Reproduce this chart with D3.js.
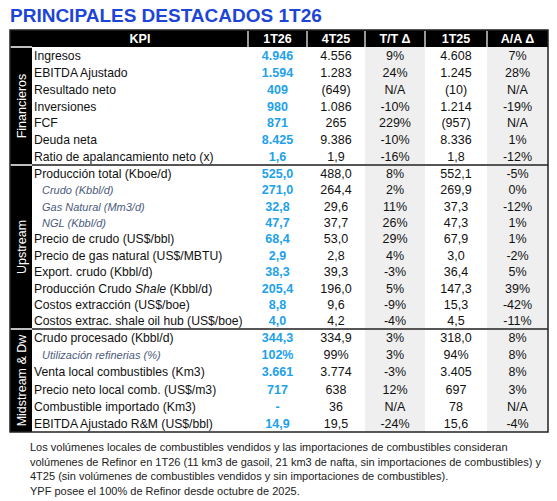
<!DOCTYPE html>
<html><head><meta charset="utf-8">
<script src="https://cdn.jsdelivr.net/npm/d3@7"></script>
<style>body{margin:0;background:#fff}svg{font-family:"Liberation Sans",Arial,sans-serif}</style>
</head><body><div id="canvas"></div>
<script>
// DATA
const title = "PRINCIPALES DESTACADOS 1T26";
const headers = ["KPI", "1T26", "4T25", "T/T Δ", "1T25", "A/A Δ"];
const sections = ["Financieros", "Upstream", "Midstream & Dw"];
const kpis = [
  ["Ingresos", "EBITDA Ajustado", "Resultado neto", "Inversiones", "FCF", "Deuda neta", "Ratio de apalancamiento neto (x)"],
  ["Producción total (Kboe/d)", "Crudo (Kbbl/d)", "Gas Natural (Mm3/d)", "NGL (Kbbl/d)", "Precio de crudo (US$/bbl)",
   "Precio de gas natural (US$/MBTU)", "Export. crudo (Kbbl/d)", "Producción Crudo |Shale| (Kbbl/d)",
   "Costos extracción (US$/boe)", "Costos extrac. shale oil hub (US$/boe)"],
  ["Crudo procesado (Kbbl/d)", "Utilización refinerias (%)", "Venta local combustibles (Km3)",
   "Precio neto local comb. (US$/m3)", "Combustible importado (Km3)", "EBITDA Ajustado R&M (US$/bbl)"]
];
const subRows = ["Crudo (Kbbl/d)", "Gas Natural (Mm3/d)", "NGL (Kbbl/d)", "Utilización refinerias (%)"];
const v1T26 = [["4.946","1.594","409","980","871","8.425","1,6"],
  ["525,0","271,0","32,8","47,7","68,4","2,9","38,3","205,4","8,8","4,0"],
  ["344,3","102%","3.661","717","-","14,9"]];
const v4T25 = [["4.556","1.283","(649)","1.086","265","9.386","1,9"],
  ["488,0","264,4","29,6","37,7","53,0","2,8","39,3","196,0","9,6","4,2"],
  ["334,9","99%","3.774","638","36","19,5"]];
const vTT = [["9%","24%","N/A","-10%","229%","-10%","-16%"],
  ["8%","2%","11%","26%","29%","4%","-3%","5%","-9%","-4%"],
  ["3%","3%","-3%","12%","N/A","-24%"]];
const v1T25 = [["4.608","1.245","(10)","1.214","(957)","8.336","1,8"],
  ["552,1","269,9","37,3","47,3","67,9","3,0","36,4","147,3","15,3","4,5"],
  ["318,0","94%","3.405","697","78","15,6"]];
const vAA = [["7%","28%","N/A","-19%","N/A","1%","-12%"],
  ["-5%","0%","-12%","1%","1%","-2%","5%","39%","-42%","-11%"],
  ["8%","8%","8%","3%","N/A","-4%"]];
const footnote = [
  "Los volúmenes locales de combustibles vendidos y las importaciones de combustibles consideran",
  "volúmenes de Refinor en 1T26 (11 km3 de gasoil, 21 km3 de nafta, sin importaciones de combustibles) y",
  "4T25 (sin volúmenes de combustibles vendidos y sin importaciones de combustibles).",
  "YPF posee el 100% de Refinor desde octubre de 2025."
];

// DIMENSIONS
const width = 557, height = 501;
const colEdges = [32, 248, 307, 365, 425, 487, 548];
const left = 10, right = 548;
const headerTop = 30, headerBottom = 47;
const sectionBounds = [[47, 165], [165, 329], [329, 432]];
const blue = "#1da1ea";

const svg = d3.select("#canvas").append("svg").attr("width", width).attr("height", height);

svg.append("text").attr("x", 10).attr("y", 22).attr("fill", "#1d45d6")
  .attr("font-size", 19).attr("font-weight", "bold").text(title);

const xCol = d3.scaleOrdinal().domain(headers).range(colEdges.slice(0, 6));
const wCol = h => colEdges[headers.indexOf(h) + 1] - xCol(h);

// gray delta columns
sectionBounds.forEach(([t, b]) => {
  ["T/T Δ", "A/A Δ"].forEach(h => svg.append("rect").attr("x", xCol(h)).attr("y", t)
    .attr("width", wCol(h)).attr("height", b - t).attr("fill", "#efefef"));
});

// header
svg.append("rect").attr("x", left).attr("y", headerTop).attr("width", right - left)
  .attr("height", headerBottom - headerTop).attr("fill", "#000");
headers.forEach((h, i) => {
  if (i > 0) svg.append("line").attr("x1", xCol(h)).attr("x2", xCol(h))
    .attr("y1", headerTop + 1).attr("y2", headerBottom).attr("stroke", "#fff").attr("stroke-width", 1.2);
  svg.append("text").attr("x", xCol(h) + wCol(h) / 2).attr("y", headerBottom - 4)
    .attr("text-anchor", "middle").attr("fill", "#fff").attr("font-weight", "bold")
    .attr("font-size", 12.5).text(h);
});

const valueSets = [v1T26, v4T25, vTT, v1T25, vAA];

sections.forEach((s, si) => {
  const [t, b] = sectionBounds[si];
  const y = d3.scaleBand().domain(d3.range(kpis[si].length)).range([t, b]);
  // section label bar
  svg.append("rect").attr("x", left).attr("y", t).attr("width", colEdges[0] - left)
    .attr("height", b - t).attr("fill", "#000");
  svg.append("line").attr("x1", left).attr("x2", colEdges[0]).attr("y1", t).attr("y2", t)
    .attr("stroke", "#fff").attr("stroke-width", 1.5);
  svg.append("text").attr("transform", `translate(${left + 15.5},${(t + b) / 2}) rotate(-90)`)
    .attr("text-anchor", "middle").attr("fill", "#fff").attr("font-size", 12.5).text(s);

  kpis[si].forEach((k, ri) => {
    const ty = y(ri) + y.bandwidth() / 2 + 4.5;
    const sub = subRows.includes(k);
    const txt = svg.append("text").attr("x", colEdges[0] + (sub ? 10 : 2)).attr("y", ty)
      .attr("font-size", sub ? 11 : 12.2).attr("fill", sub ? "#4b5b7c" : "#111")
      .attr("font-style", sub ? "italic" : null);
    k.split("|").forEach((part, pi) => txt.append("tspan")
      .attr("font-style", pi === 1 ? "italic" : null).text(part));
    valueSets.forEach((vals, ci) => {
      const h = headers[ci + 1];
      svg.append("text").attr("x", xCol(h) + wCol(h) / 2).attr("y", ty)
        .attr("text-anchor", "middle").attr("font-size", 12.5)
        .attr("fill", ci === 0 ? blue : "#111").attr("font-weight", ci === 0 ? "bold" : null)
        .text(vals[si][ri]);
    });
  });
  // section separator
  if (si > 0) svg.append("line").attr("x1", colEdges[0]).attr("x2", right).attr("y1", t).attr("y2", t)
    .attr("stroke", "#555").attr("stroke-width", 2);
});

// outer border
svg.append("rect").attr("x", left).attr("y", headerTop).attr("width", right - left)
  .attr("height", sectionBounds[2][1] - headerTop).attr("fill", "none")
  .attr("stroke", "#222").attr("stroke-width", 1.5);

svg.selectAll(".foot").data(footnote).join("text").attr("class", "foot")
  .attr("x", 30).attr("y", (d, i) => 451 + i * 14.5).attr("font-size", 11).attr("fill", "#222")
  .text(d => d);
</script></body></html>
